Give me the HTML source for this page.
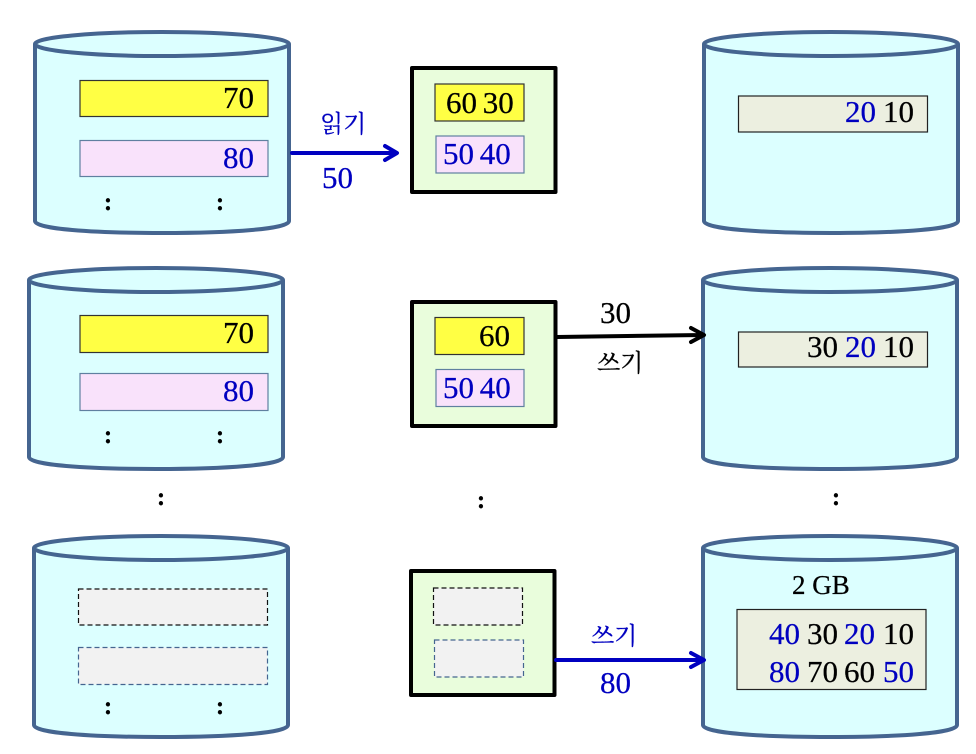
<!DOCTYPE html>
<html><head><meta charset="utf-8"><style>
html,body{margin:0;padding:0;background:#fff}
svg{display:block}
text{font-family:"Liberation Serif","Noto Serif CJK SC",serif;font-size:31px;stroke:currentColor;stroke-width:.25;word-spacing:-2px;color:#000}
.k{font-family:"Noto Serif CJK SC","Noto Serif CJK KR",serif;font-size:24px}
.b{fill:#0000c0;color:#0000c0}
.s{font-size:25px;font-weight:bold}
.cyl{fill:#dcffff;stroke:#456590;stroke-width:4}
.box{fill:#e9fddc;stroke:#000;stroke-width:4;stroke-linejoin:round}
.y{fill:#ffff44;stroke:#333;stroke-width:1.2}
.p{fill:#f9e2fb;stroke:#6080a0;stroke-width:1.2}
.e{fill:#ecefe0;stroke:#222;stroke-width:1.2}
.d1{fill:#f2f2f2;stroke:#111;stroke-width:1.2;stroke-dasharray:5 3}
.d2{fill:#f2f2f2;stroke:#456590;stroke-width:1.2;stroke-dasharray:5 3}
</style></head><body>
<svg width="976" height="754" viewBox="0 0 976 754" xmlns="http://www.w3.org/2000/svg">
<defs>
<g id="c">
<path class="cyl" d="M0 12V189C0 197 57 201 127 201C197 201 254 197 254 189V12"/>
<ellipse class="cyl" cx="127" cy="12" rx="127" ry="12"/>
</g>
</defs>

<!-- cylinders -->
<use href="#c" x="35" y="32"/>
<use href="#c" x="29" y="268"/>
<use href="#c" x="34" y="536"/>
<use href="#c" x="704" y="32"/>
<use href="#c" x="703" y="268"/>
<use href="#c" x="703" y="536"/>

<!-- left column -->
<rect class="y" x="80" y="80.500" width="188" height="36"/>
<rect class="p" x="80" y="140.500" width="188" height="36"/>
<text x="223" y="108">70</text>
<text class="b" x="223" y="168">80</text>
<text class="s" x="108" y="210" text-anchor="middle">:</text>
<text class="s" x="220" y="210" text-anchor="middle">:</text>

<rect class="y" x="80" y="315.500" width="188" height="37"/>
<rect class="p" x="80" y="373.500" width="188" height="37"/>
<text x="223" y="343">70</text>
<text class="b" x="223" y="401">80</text>
<text class="s" x="108" y="443" text-anchor="middle">:</text>
<text class="s" x="220" y="443" text-anchor="middle">:</text>

<rect class="d1" x="78.500" y="589" width="189" height="36"/>
<rect class="d2" x="78.500" y="647.500" width="189" height="37"/>
<text class="s" x="108" y="714" text-anchor="middle">:</text>
<text class="s" x="220" y="714" text-anchor="middle">:</text>

<text class="s" x="161" y="505" text-anchor="middle">:</text>
<text class="s" x="481" y="508" text-anchor="middle">:</text>
<text class="s" x="836" y="505" text-anchor="middle">:</text>

<!-- middle boxes -->
<rect class="box" x="412" y="68" width="143.500" height="124"/>
<rect class="y" x="435" y="84" width="89" height="37"/>
<rect class="p" x="436" y="136" width="88" height="37"/>
<text x="446" y="113">60 30</text>
<text class="b" x="443" y="164">50 40</text>

<rect class="box" x="412" y="302" width="143.500" height="124"/>
<rect class="y" x="435" y="317.500" width="89" height="37"/>
<rect class="p" x="436" y="369.500" width="88" height="37"/>
<text x="479" y="346">60</text>
<text class="b" x="443" y="398">50 40</text>

<rect class="box" x="411" y="571" width="143.500" height="124"/>
<rect class="d1" x="433.500" y="588" width="89" height="37"/>
<rect class="d2" x="434.500" y="640" width="89" height="37"/>

<!-- right contents -->
<rect class="e" x="738.500" y="96" width="189" height="36"/>
<text class="b" x="845" y="122">20</text><text x="883" y="122">10</text>

<rect class="e" x="738.500" y="332" width="189" height="35"/>
<text x="807" y="357">30</text><text class="b" x="845" y="357">20</text><text x="883" y="357">10</text>

<text x="792" y="594" style="font-size:27px;word-spacing:0">2 GB</text>
<rect class="e" x="737" y="609.500" width="189" height="80"/>
<text class="b" x="769" y="644">40</text><text x="807" y="644">30</text><text class="b" x="844" y="644">20</text><text x="883" y="644">10</text>
<text class="b" x="769" y="682">80</text><text x="807" y="682">70</text><text x="844" y="682">60</text><text class="b" x="883" y="682">50</text>

<!-- arrows -->
<g fill="none" stroke-width="4" stroke-linecap="round" stroke-linejoin="round">
<path stroke="#0000c0" d="M292 153H396M385 146L397 153L385 160"/>
<path stroke="#000" d="M557 337L703 335M691 328L704 335L691 342"/>
<path stroke="#0000c0" d="M556 660H703M691 653L704 660L691 667"/>
</g>

<!-- arrow labels -->
<text class="k b" x="320" y="132">읽기</text>
<text class="b" x="322" y="188">50</text>
<text x="600" y="323">30</text>
<text class="k" x="597" y="371">쓰기</text>
<text class="k b" x="591" y="644">쓰기</text>
<text class="b" x="600" y="693">80</text>
</svg>
</body></html>
